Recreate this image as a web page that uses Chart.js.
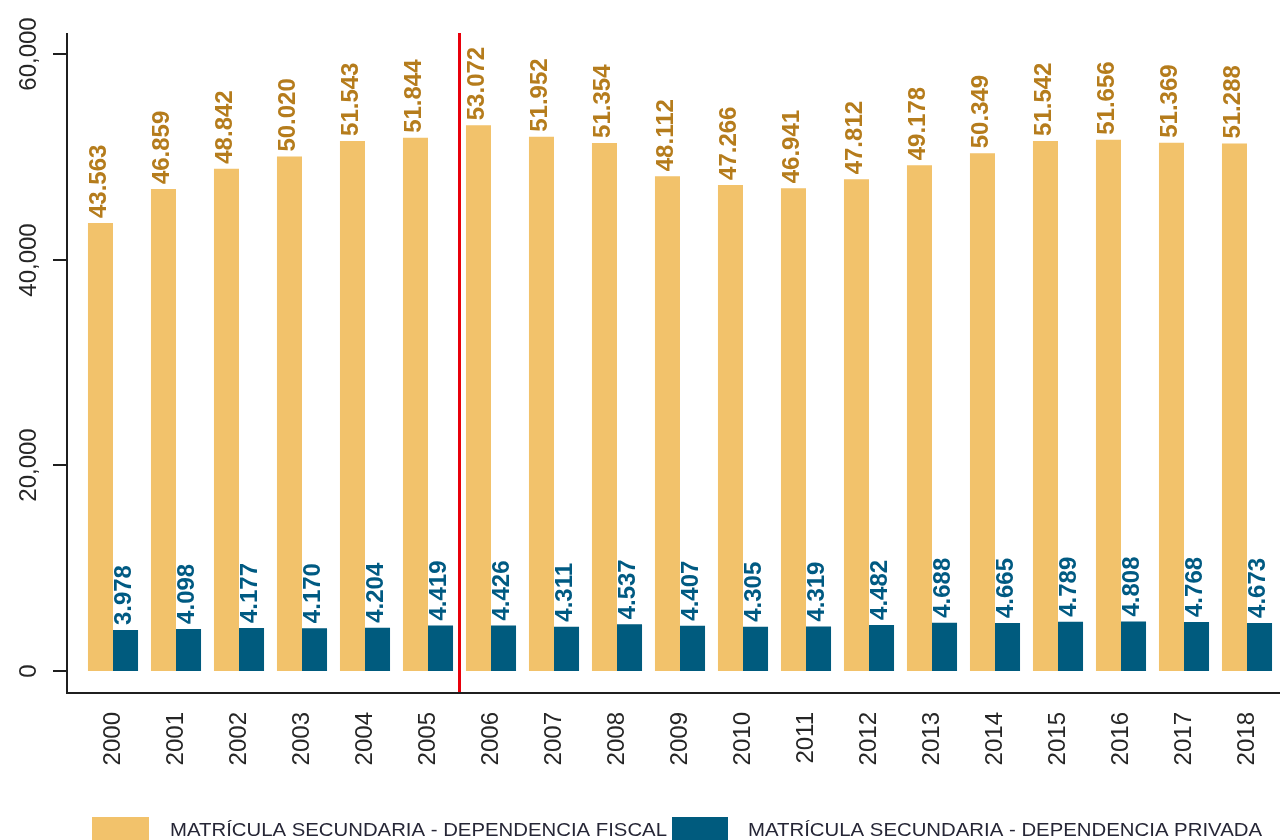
<!DOCTYPE html>
<html>
<head>
<meta charset="utf-8">
<script src="https://cdn.jsdelivr.net/npm/chart.js@4/dist/chart.umd.min.js"></script>
<style>
html,body{margin:0;padding:0;background:#fff;}
#wrap{width:1280px;height:840px;}
</style>
</head>
<body>
<div id="wrap"><canvas id="c" width="1280" height="840"></canvas></div>
<script>
const years = ['2000','2001','2002','2003','2004','2005','2006','2007','2008','2009','2010','2011','2012','2013','2014','2015','2016','2017','2018'];
const fiscal = [43563,46859,48842,50020,51543,51844,53072,51952,51354,48112,47266,46941,47812,49178,50349,51542,51656,51369,51288];
const privada = [3978,4098,4177,4170,4204,4419,4426,4311,4537,4407,4305,4319,4482,4688,4665,4789,4808,4768,4673];
const yTicks = [0,20000,40000,60000];
const seriesNames = ['MATRÍCULA SECUNDARIA - DEPENDENCIA FISCAL','MATRÍCULA SECUNDARIA - DEPENDENCIA PRIVADA'];
const dividerAfter = '2005';

const FISCAL_COLOR = '#F2C26B';
const PRIV_COLOR = '#005B7E';
const FISCAL_LABEL = '#B57C1C';
const PRIV_LABEL = '#005A82';
const FONT = '"Liberation Sans", Arial, sans-serif';

function fmtDot(v){ return String(v).replace(/\B(?=(\d{3})+(?!\d))/g,'.'); }
function fmtComma(v){ return String(v).replace(/\B(?=(\d{3})+(?!\d))/g,','); }

const overlay = {
  id:'overlay',
  afterDatasetsDraw(chart){
    const ctx = chart.ctx;
    const xs = chart.scales.x, ys = chart.scales.y;
    // data labels
    const labelColors = [FISCAL_LABEL, PRIV_LABEL];
    chart.data.datasets.forEach((ds, di) => {
      const meta = chart.getDatasetMeta(di);
      meta.data.forEach((el, i) => {
        ctx.save();
        ctx.translate(el.x - 1, el.y - 5);
        ctx.rotate(-Math.PI/2);
        ctx.font = 'bold 24px ' + FONT;
        ctx.fillStyle = labelColors[di];
        ctx.textAlign = 'left';
        ctx.textBaseline = 'middle';
        ctx.fillText(fmtDot(ds.data[i]), 0, 0);
        ctx.restore();
      });
    });
    // axis lines
    const axisX = 67, axisBottom = 692, axisTop = 33;
    ctx.save();
    ctx.strokeStyle = '#1f1f1f';
    ctx.lineWidth = 2;
    ctx.beginPath();
    ctx.moveTo(axisX, axisTop);
    ctx.lineTo(axisX, axisBottom + 1);
    ctx.lineTo(1280, axisBottom + 1);
    ctx.stroke();
    // y ticks & labels
    yTicks.forEach(v => {
      const py = Math.round(ys.getPixelForValue(v));
      ctx.beginPath();
      ctx.moveTo(53, py);
      ctx.lineTo(axisX, py);
      ctx.stroke();
      ctx.save();
      ctx.translate(29, py);
      ctx.rotate(-Math.PI/2);
      ctx.font = '24px ' + FONT;
      ctx.fillStyle = '#262626';
      ctx.textAlign = 'center';
      ctx.textBaseline = 'middle';
      ctx.fillText(fmtComma(v), 0, 0);
      ctx.restore();
    });
    // red divider
    const idx = years.indexOf(dividerAfter);
    const rx = (xs.getPixelForValue(idx) + xs.getPixelForValue(idx+1)) / 2;
    ctx.strokeStyle = '#E8000B';
    ctx.lineWidth = 3;
    ctx.beginPath();
    ctx.moveTo(rx, axisTop);
    ctx.lineTo(rx, axisBottom);
    ctx.stroke();
    // legend
    const items = [
      {box:[92,817,57,24], tx:170, w:497, color:FISCAL_COLOR, text:seriesNames[0]},
      {box:[672,817,56,24], tx:748, w:514, color:PRIV_COLOR, text:seriesNames[1]}
    ];
    items.forEach(it => {
      ctx.fillStyle = it.color;
      ctx.fillRect(it.box[0], it.box[1], it.box[2], it.box[3]);
      ctx.font = '19px ' + FONT;
      const mw = ctx.measureText(it.text).width;
      ctx.save();
      ctx.translate(it.tx, 836);
      ctx.scale(it.w / mw, 1);
      ctx.fillStyle = '#262636';
      ctx.textAlign = 'left';
      ctx.textBaseline = 'alphabetic';
      ctx.fillText(it.text, 0, 0);
      ctx.restore();
    });
    ctx.restore();
  }
};

new Chart(document.getElementById('c'), {
  type:'bar',
  data:{
    labels: years,
    datasets:[
      {label:seriesNames[0], data:fiscal, backgroundColor:FISCAL_COLOR, borderWidth:0},
      {label:seriesNames[1], data:privada, backgroundColor:PRIV_COLOR, borderWidth:0}
    ]
  },
  options:{
    responsive:false,
    animation:false,
    devicePixelRatio:1,
    layout:{padding:{left:81.5, right:1.5, top:33, bottom:0}},
    plugins:{legend:{display:false}, tooltip:{enabled:false}},
    datasets:{bar:{categoryPercentage:0.795, barPercentage:1}},
    scales:{
      x:{
        display:true,
        offset:true,
        grid:{display:false, drawTicks:false},
        border:{display:false},
        ticks:{
          minRotation:90, maxRotation:90, padding:20,
          color:'#262626',
          font:{family:FONT, size:24}
        },
        afterFit(scale){ scale.height = 148; scale.paddingLeft = 0; scale.paddingRight = 0; }
      },
      y:{
        display:false,
        min:-2040, max:62040
      }
    }
  },
  plugins:[overlay]
});
</script>
</body>
</html>
